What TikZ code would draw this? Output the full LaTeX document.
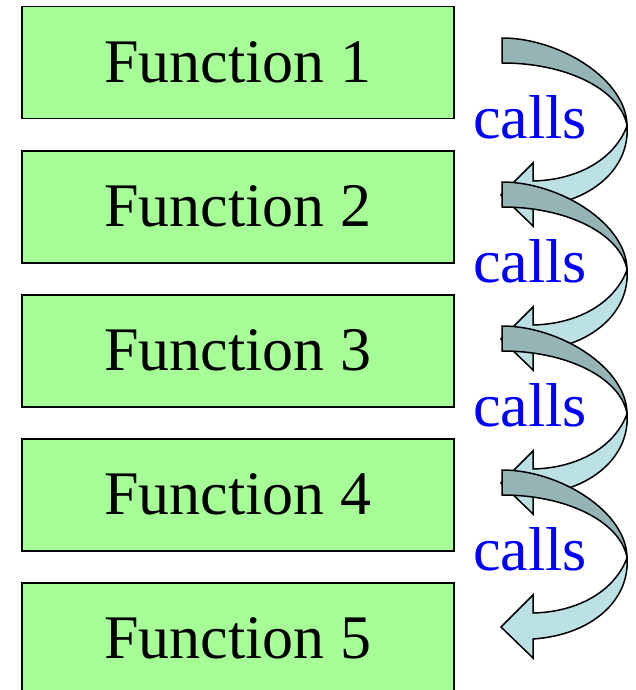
\documentclass[tikz,border=0pt]{standalone}
\usepackage{fontspec}
\setmainfont{Liberation Serif}
\newfontfamily\timesfont{Liberation Serif}
\definecolor{boxgreen}{RGB}{166,255,150}
\definecolor{darkband}{RGB}{148,180,181}
\definecolor{lightband}{RGB}{188,225,228}
\definecolor{callblue}{RGB}{0,0,255}
\tikzset{
  funcbox/.style={draw=black, line width=1.5pt, fill=boxgreen, minimum width=432pt, minimum height=112pt, inner sep=0pt, font=\timesfont\fontsize{62}{62}\selectfont, text=black},
  callstext/.style={text=callblue, font=\timesfont\fontsize{62}{62}\selectfont, anchor=base, inner sep=0pt},
  callarrow/.pic={
    \fill[lightband, draw=black, line width=1.5pt, line join=miter]
      (125,88) .. controls (128,130) and (90,165) .. (31,169)
      -- (31,188) -- (-1,157) -- (31,125) -- (31,143)
      .. controls (75,142) and (112,122) .. (125,88) -- cycle;
    \fill[darkband, draw=black, line width=1.5pt, line join=miter]
      (0,0) .. controls (58,0) and (125,42) .. (125,88)
      .. controls (120,55) and (70,25) .. (0,25) -- cycle;
  }
}
\begin{document}
\begin{tikzpicture}[x=1pt, y=-1pt]
\useasboundingbox (0,0) rectangle (636,690);
\begin{scope}
\clip (0,0) rectangle (636,690);
\node[funcbox, anchor=north west] (f1) at (21,6) {Function 1};
\node[funcbox, anchor=north west] (f2) at (21,150) {Function 2};
\node[funcbox, anchor=north west] (f3) at (21,294) {Function 3};
\node[funcbox, anchor=north west] (f4) at (21,438) {Function 4};
\node[funcbox, anchor=north west] (f5) at (21,582) {Function 5};
\pic (a1) at (502,38) {callarrow};
\node[callstext] (c1) at (530,138) {calls};
\pic (a2) at (502,182) {callarrow};
\node[callstext] (c2) at (530,282) {calls};
\pic (a3) at (502,326) {callarrow};
\node[callstext] (c3) at (530,426) {calls};
\pic (a4) at (502,470) {callarrow};
\node[callstext] (c4) at (530,570) {calls};
\end{scope}
\end{tikzpicture}
\end{document}
